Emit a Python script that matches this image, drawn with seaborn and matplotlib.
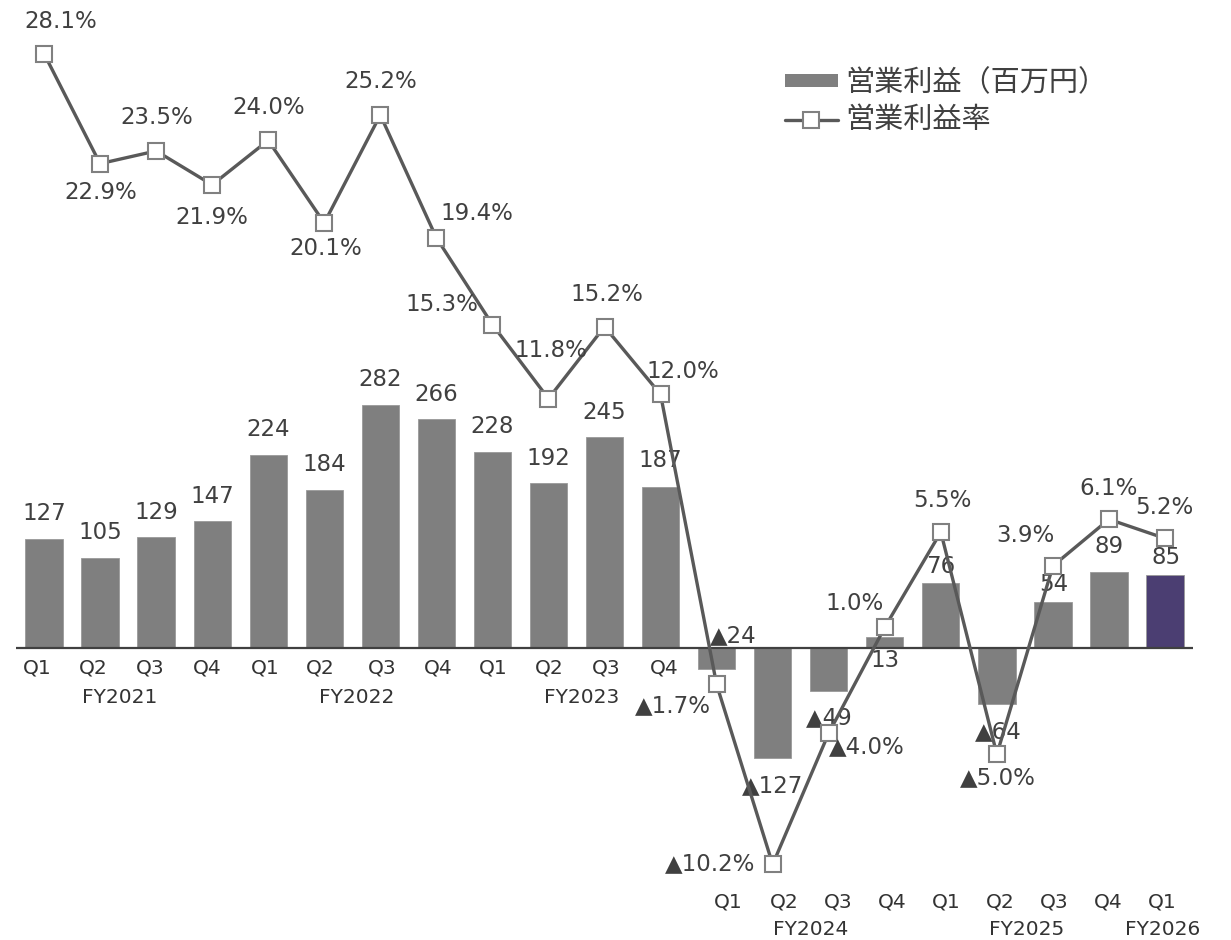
import matplotlib
matplotlib.use("Agg")
import matplotlib.pyplot as plt
import seaborn as sns
import pandas as pd
import numpy as np
from matplotlib.patches import Patch
from matplotlib.lines import Line2D

# ---- data -------------------------------------------------------------
fiscal_years = ["FY2021"] * 4 + ["FY2022"] * 4 + ["FY2023"] * 4 + ["FY2024"] * 4 + ["FY2025"] * 4 + ["FY2026"]
quarters = ["Q1", "Q2", "Q3", "Q4"] * 5 + ["Q1"]
operating_profit = [127, 105, 129, 147, 224, 184, 282, 266, 228, 192, 245, 187,
                    -24, -127, -49, 13, 76, -64, 54, 89, 85]          # 百万円
operating_margin = [28.1, 22.9, 23.5, 21.9, 24.0, 20.1, 25.2, 19.4, 15.3, 11.8, 15.2, 12.0,
                    -1.7, -10.2, -4.0, 1.0, 5.5, -5.0, 3.9, 6.1, 5.2]  # %
fy_labels = ["FY2021", "FY2022", "FY2023", "FY2024", "FY2025", "FY2026"]
legend_labels = ["営業利益（百万円）", "営業利益率"]

# ---- label placement (pixel offsets from the mark) -----------------------
bar_label_off = [(0, 25), (0, 25), (0, 25), (0, 25), (0, 25), (0, 25), (0, 25), (0, 24),
                 (0, 25), (0, 24), (0, 24), (0, 26),
                 (17, 34), (0, -27), (1, -27), (0, -23), (0, 16), (1, -28), (1, 17), (0, 25), (1, 18)]
line_label_off = [(17, 32), (1, -29), (1, 33), (0, -33), (0, 33), (1, -26), (0, 33), (41, 24),
                  (-51, 20), (2, 48), (2, 32), (22, 23),
                  (-44, -21), (-63, 1), (38, -14), (-30, 24), (2, 32), (1, -23), (-27, 30), (0, 31), (-1, 31)]
quarter_dx = [-7, -7, -6, -5, -3, -4, 2, 2, 1, 1, 2, 4,
              12, 12, 9, 7, 5, 3, 1, -1, -3]
fy_pos = [(1.5, -8), (5.5, 4), (9.5, 5.5), (13.5, 10), (17.5, 2), (20, -2)]

# ---- styling -------------------------------------------------------------
BAR_GRAY = "#7f7f7f"
BAR_LATEST = "#4b3e72"
LINE_COLOR = "#595959"
MARKER_EDGE = "#808080"
TEXT = "#404040"
AXIS_TEXT = "#333333"
NUM_FONT = ["DejaVu Sans", "Noto Sans CJK JP"]

sns.set_theme(style="white")
plt.rcParams["font.family"] = ["Noto Sans CJK JP", "DejaVu Sans"]

labels_txt = [f"{fy}{q}" for fy, q in zip(fiscal_years, quarters)]
df = pd.DataFrame({"period": labels_txt, "profit": operating_profit,
                   "margin": operating_margin, "quarter": quarters})
n = len(df)
palette = [BAR_GRAY] * (n - 1) + [BAR_LATEST]

fig = plt.figure(figsize=(12.31, 9.40), dpi=100)
ax = fig.add_axes([0, 0, 1, 1])

sns.barplot(data=df, x="period", y="profit", hue="period", palette=palette,
            legend=False, width=0.665, saturation=1, ax=ax,
            edgecolor="#9a9a9a", linewidth=0.6, zorder=2)

ax.set_xlim(-0.785, 21.177)
ax.set_ylim(-337.4, 750.6)
ax.hlines(0, -0.5, n - 0.5, color="#404040", lw=1.6, zorder=3)

ax2 = ax.twinx()
x_idx = np.arange(n)
sns.lineplot(x=x_idx, y=df["margin"].to_numpy(), ax=ax2, color=LINE_COLOR, lw=2.4,
             marker="s", markersize=11.5, markerfacecolor="white",
             markeredgecolor=MARKER_EDGE, markeredgewidth=1.5, zorder=4)
ax2.set_ylim(-13.77, 30.63)
ax2.set_xlim(-0.785, 21.177)

for a in (ax, ax2):
    a.set_axis_off()


def fmt_num(v, suffix=""):
    if v < 0:
        return f"▲{abs(v):g}{suffix}" if suffix == "" else f"▲{abs(v):.1f}{suffix}"
    return f"{v:g}" if suffix == "" else f"{v:.1f}{suffix}"


# bar value labels
for i, (v, (dx, dy)) in enumerate(zip(operating_profit, bar_label_off)):
    ax.annotate(fmt_num(v), xy=(i, v), xytext=(dx, dy), textcoords="offset pixels",
                ha="center", va="center", fontsize=16.5, color=TEXT, family=NUM_FONT,
                annotation_clip=False, zorder=5)

# margin labels
for i, (v, (dx, dy)) in enumerate(zip(operating_margin, line_label_off)):
    ax2.annotate(fmt_num(v, "%"), xy=(i, v), xytext=(dx, dy), textcoords="offset pixels",
                 ha="center", va="center", fontsize=16.5, color=TEXT, family=NUM_FONT,
                 annotation_clip=False, zorder=6)

# category axis: quarters and fiscal years
for i, (q, dx) in enumerate(zip(quarters, quarter_dx)):
    dy = -19.5 if i < 12 else -253.5
    ax.annotate(q, xy=(i, 0), xytext=(dx, dy), textcoords="offset pixels",
                ha="center", va="center", fontsize=14.5, color=AXIS_TEXT, family=NUM_FONT,
                annotation_clip=False)
for k, (fy, (xc, dx)) in enumerate(zip(fy_labels, fy_pos)):
    dy = -49.5 if k < 3 else -281.5
    ax.annotate(fy, xy=(xc, 0), xytext=(dx, dy), textcoords="offset pixels",
                ha="center", va="center", fontsize=14.5, color=AXIS_TEXT, family=NUM_FONT,
                annotation_clip=False)

# legend
handles = [
    Patch(facecolor=BAR_GRAY, edgecolor="none"),
    Line2D([0], [0], color=LINE_COLOR, lw=2.4, marker="s", markersize=11.5,
           markerfacecolor="white", markeredgecolor=MARKER_EDGE, markeredgewidth=1.5),
]
leg = fig.legend(handles, legend_labels, loc="upper left",
                 bbox_to_anchor=(785 / 1231, 1 - 68 / 940), frameon=False,
                 fontsize=21, handlelength=1.8, handleheight=0.35,
                 handletextpad=0.25, labelspacing=0.25, borderpad=0, borderaxespad=0)
for t in leg.get_texts():
    t.set_color(TEXT)

fig.savefig("out.png", dpi=100)
